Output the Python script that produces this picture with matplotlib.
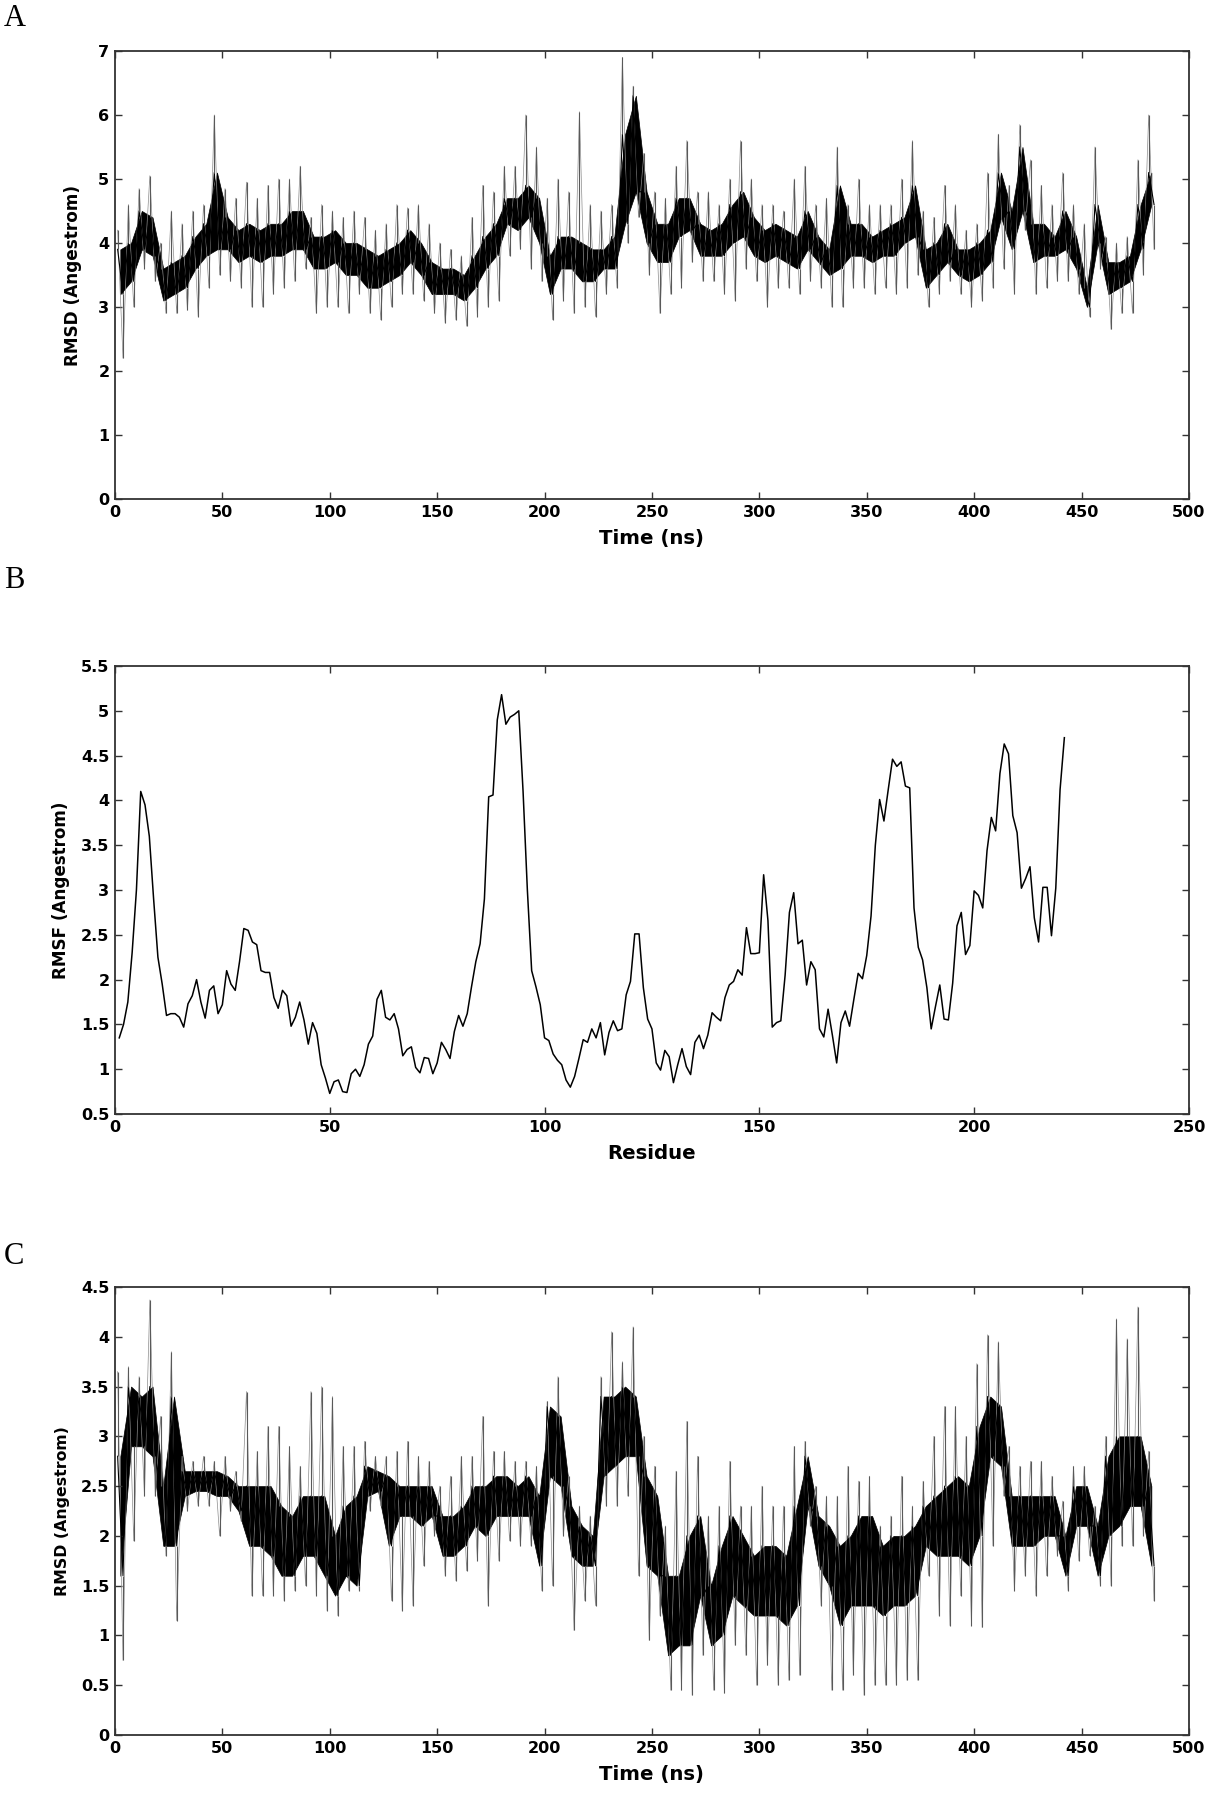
import numpy as np
import matplotlib
matplotlib.use("Agg")
import matplotlib.pyplot as plt
from matplotlib.ticker import FuncFormatter

# ---- Panel A: RMSD vs time, read per 5 ns window ----
# dark band (lo/hi) and the thin outer spikes (min/max)
a_t0 = list(range(0, 485, 5))
a_band_lo = [3.2, 3.4, 3.9, 3.8, 3.1, 3.2, 3.3, 3.6, 3.8, 3.9,
             3.9, 3.7, 3.8, 3.7, 3.8, 3.8, 3.9, 3.9, 3.6, 3.6,
             3.7, 3.5, 3.5, 3.3, 3.3, 3.4, 3.5, 3.7, 3.5, 3.2,
             3.2, 3.2, 3.1, 3.3, 3.6, 3.8, 4.3, 4.2, 4.4, 4.0,
             3.2, 3.6, 3.6, 3.4, 3.4, 3.6, 3.6, 4.3, 4.8, 4.0,
             3.7, 3.7, 4.1, 4.2, 3.8, 3.8, 3.8, 4.0, 4.1, 3.8,
             3.7, 3.8, 3.7, 3.6, 3.9, 3.7, 3.5, 3.6, 3.8, 3.8,
             3.7, 3.8, 3.8, 4.0, 4.1, 3.3, 3.5, 3.7, 3.5, 3.4,
             3.5, 3.7, 4.4, 3.9, 4.5, 3.7, 3.8, 3.8, 3.9, 3.6,
             3.0, 4.0, 3.2, 3.3, 3.4, 3.9, 4.6]
a_band_hi = [3.9, 4.0, 4.5, 4.4, 3.6, 3.7, 3.8, 4.1, 4.3, 5.1,
             4.4, 4.2, 4.3, 4.2, 4.3, 4.3, 4.5, 4.5, 4.1, 4.1,
             4.2, 4.0, 4.0, 3.9, 3.8, 3.9, 4.0, 4.2, 4.0, 3.7,
             3.6, 3.6, 3.5, 3.8, 4.1, 4.3, 4.7, 4.7, 4.9, 4.7,
             3.8, 4.1, 4.1, 4.0, 3.9, 3.9, 4.1, 5.7, 6.3, 4.8,
             4.3, 4.3, 4.7, 4.7, 4.3, 4.2, 4.3, 4.6, 4.8, 4.4,
             4.2, 4.3, 4.2, 4.1, 4.5, 4.1, 3.9, 4.9, 4.3, 4.3,
             4.1, 4.2, 4.3, 4.4, 4.9, 3.9, 4.0, 4.3, 3.9, 3.9,
             4.0, 4.2, 5.1, 4.5, 5.5, 4.3, 4.3, 4.1, 4.5, 4.1,
             3.3, 4.6, 3.7, 3.7, 3.8, 4.6, 5.1]
a_spike_lo = [2.2, 3.0, 3.6, 3.4, 2.9, 2.9, 2.95, 2.85, 3.3, 3.5,
              3.4, 3.3, 3.0, 3.0, 3.2, 3.3, 3.4, 3.6, 2.9, 3.0,
              3.0, 2.9, 3.2, 2.9, 2.8, 3.0, 3.2, 3.2, 3.1, 2.9,
              2.75, 2.8, 2.7, 2.85, 3.0, 3.1, 3.8, 3.9, 3.6, 3.4,
              2.8, 3.1, 2.9, 3.0, 2.85, 3.2, 3.3, 4.0, 4.4, 3.5,
              2.9, 3.2, 3.3, 3.7, 3.4, 3.4, 3.2, 3.1, 3.6, 3.4,
              3.0, 3.3, 3.3, 3.2, 3.4, 3.3, 3.0, 3.0, 3.3, 3.3,
              3.2, 3.3, 3.2, 3.3, 3.5, 3.0, 3.2, 3.4, 3.2, 3.0,
              3.1, 3.3, 3.6, 3.2, 4.2, 3.2, 3.3, 3.4, 3.4, 3.2,
              2.85, 3.6, 2.65, 2.9, 2.9, 3.5, 3.9]
a_spike_hi = [4.2, 4.6, 4.85, 5.05, 4.0, 4.5, 4.3, 4.5, 4.6, 6.0,
              4.85, 4.7, 4.95, 4.7, 4.9, 5.0, 5.0, 5.2, 4.4, 4.6,
              4.5, 4.4, 4.5, 4.4, 4.2, 4.3, 4.6, 4.55, 4.6, 4.3,
              4.0, 3.9, 3.8, 4.4, 4.9, 4.8, 5.2, 5.2, 6.0, 5.5,
              4.7, 5.0, 4.8, 6.05, 4.6, 4.5, 4.6, 6.9, 6.45, 5.4,
              4.8, 4.7, 5.2, 5.6, 4.8, 4.8, 4.6, 5.0, 5.6, 5.0,
              4.6, 4.6, 4.5, 5.0, 5.2, 4.6, 4.7, 5.5, 4.6, 5.0,
              4.6, 4.6, 4.6, 5.0, 5.6, 4.5, 4.4, 4.9, 4.6, 4.2,
              4.3, 5.1, 5.7, 4.9, 5.85, 5.3, 4.9, 4.6, 5.1, 4.6,
              4.3, 5.5, 4.1, 4.0, 4.1, 5.3, 6.0]

# ---- Panel B: RMSF per residue ----
b_residue = list(range(1, 222))
b_rmsf = [1.35, 1.5, 1.75, 2.3, 3.0, 4.1, 3.95, 3.6, 2.9, 2.25,
          1.95, 1.6, 1.62, 1.62, 1.58, 1.47, 1.73, 1.82, 2.0, 1.75,
          1.57, 1.88, 1.93, 1.62, 1.72, 2.1, 1.95, 1.88, 2.2, 2.57,
          2.55, 2.42, 2.39, 2.1, 2.08, 2.08, 1.8, 1.68, 1.88, 1.82,
          1.48, 1.58, 1.75, 1.55, 1.28, 1.52, 1.4, 1.05, 0.9, 0.73,
          0.86, 0.88, 0.75, 0.74, 0.95, 1.0, 0.92, 1.05, 1.28, 1.37,
          1.78, 1.88, 1.58, 1.55, 1.62, 1.45, 1.15, 1.22, 1.25, 1.02,
          0.96, 1.13, 1.12, 0.95, 1.07, 1.3, 1.22, 1.12, 1.42, 1.6,
          1.48, 1.62, 1.92, 2.2, 2.4, 2.9, 4.04, 4.06, 4.9, 5.18,
          4.85, 4.93, 4.96, 5.0, 4.1, 3.0, 2.1, 1.92, 1.72, 1.35,
          1.32, 1.17, 1.1, 1.05, 0.88, 0.8, 0.92, 1.12, 1.33, 1.3,
          1.45, 1.35, 1.52, 1.16, 1.41, 1.54, 1.43, 1.45, 1.83, 1.98,
          2.51, 2.51, 1.91, 1.56, 1.45, 1.07, 0.99, 1.21, 1.14, 0.85,
          1.05, 1.23, 1.03, 0.94, 1.3, 1.38, 1.23, 1.38, 1.63, 1.58,
          1.54, 1.8, 1.94, 1.98, 2.11, 2.05, 2.58, 2.29, 2.29, 2.3,
          3.17, 2.66, 1.47, 1.52, 1.54, 2.05, 2.75, 2.97, 2.4, 2.44,
          1.94, 2.2, 2.11, 1.45, 1.36, 1.67, 1.38, 1.07, 1.52, 1.65,
          1.48, 1.78, 2.07, 2.01, 2.27, 2.71, 3.5, 4.01, 3.77, 4.12,
          4.46, 4.38, 4.43, 4.16, 4.14, 2.8, 2.36, 2.22, 1.91, 1.45,
          1.7, 1.94, 1.56, 1.55, 1.96, 2.6, 2.75, 2.28, 2.38, 2.99,
          2.94, 2.8, 3.44, 3.81, 3.66, 4.3, 4.63, 4.52, 3.83, 3.64,
          3.02, 3.13, 3.26, 2.69, 2.42, 3.03, 3.03, 2.49, 3.02, 4.12,
          4.7]

# ---- Panel C: RMSD vs time, read per 5 ns window ----
c_t0 = list(range(0, 485, 5))
c_band_lo = [1.6, 2.9, 2.9, 2.8, 1.9, 1.9, 2.4, 2.45, 2.45, 2.4,
             2.4, 2.25, 1.9, 1.9, 1.8, 1.6, 1.6, 1.8, 1.8, 1.6,
             1.4, 1.6, 1.5, 2.4, 2.45, 1.9, 2.2, 2.2, 2.1, 2.2,
             1.8, 1.8, 1.9, 2.1, 2.0, 2.2, 2.2, 2.2, 2.2, 1.7,
             2.6, 2.5, 1.8, 1.7, 1.7, 2.6, 2.7, 2.8, 2.8, 1.7,
             1.6, 0.8, 0.9, 0.9, 1.4, 0.9, 1.0, 1.4, 1.3, 1.2,
             1.2, 1.2, 1.1, 1.3, 2.3, 1.7, 1.5, 1.1, 1.3, 1.3,
             1.3, 1.2, 1.3, 1.3, 1.4, 1.9, 1.8, 1.8, 1.8, 1.7,
             2.0, 2.8, 2.7, 1.9, 1.9, 1.9, 2.0, 2.0, 1.6, 2.1,
             2.1, 1.6, 2.0, 2.1, 2.3, 2.3, 1.7]
c_band_hi = [2.8, 3.5, 3.4, 3.5, 2.5, 3.4, 2.65, 2.65, 2.65, 2.65,
             2.6, 2.5, 2.5, 2.5, 2.5, 2.3, 2.2, 2.4, 2.4, 2.4,
             2.0, 2.3, 2.4, 2.7, 2.65, 2.6, 2.5, 2.5, 2.5, 2.5,
             2.2, 2.2, 2.3, 2.5, 2.5, 2.6, 2.6, 2.5, 2.6, 2.4,
             3.3, 3.2, 2.3, 2.1, 2.0, 3.4, 3.4, 3.5, 3.4, 2.6,
             2.4, 1.6, 1.6, 2.0, 2.2, 1.5, 1.9, 2.2, 2.0, 1.8,
             1.9, 1.9, 1.8, 2.3, 2.8, 2.2, 2.1, 1.9, 2.0, 2.2,
             2.2, 1.9, 2.0, 2.0, 2.1, 2.3, 2.4, 2.5, 2.6, 2.5,
             3.1, 3.4, 3.3, 2.4, 2.4, 2.4, 2.4, 2.4, 2.0, 2.5,
             2.5, 2.1, 2.8, 3.0, 3.0, 3.0, 2.5]
c_spike_lo = [0.75, 1.95, 2.4, 2.4, 1.8, 1.15, 2.25, 2.3, 2.3, 2.0,
              2.25, 2.15, 1.4, 1.4, 1.4, 1.35, 1.45, 1.5, 1.4, 1.25,
              1.2, 1.45, 1.45, 2.25, 2.3, 1.35, 1.25, 1.3, 1.7, 2.0,
              1.6, 1.55, 1.65, 1.75, 1.3, 1.75, 1.95, 1.9, 1.9, 1.45,
              1.5, 2.0, 1.05, 1.35, 1.3, 2.3, 2.3, 2.4, 1.6, 0.95,
              1.2, 0.45, 0.45, 0.4, 0.8, 0.45, 0.42, 0.9, 0.8, 0.5,
              0.7, 0.5, 0.55, 0.6, 2.1, 1.3, 0.45, 0.45, 0.6, 0.4,
              0.5, 0.5, 0.5, 0.55, 0.55, 1.6, 1.2, 1.1, 1.4, 1.1,
              1.08, 1.9, 2.4, 1.45, 1.6, 1.4, 1.6, 1.8, 1.45, 1.75,
              1.8, 1.5, 1.5, 1.9, 1.9, 2.0, 1.35]
c_spike_hi = [3.65, 3.7, 3.6, 4.37, 3.2, 3.85, 2.8, 2.75, 2.8, 2.75,
              2.8, 2.65, 3.45, 2.85, 3.1, 3.1, 2.9, 2.7, 3.45, 3.5,
              3.4, 2.9, 2.9, 2.95, 2.8, 2.8, 2.85, 2.95, 2.8, 2.75,
              2.5, 2.6, 2.8, 2.8, 3.2, 2.85, 2.85, 2.75, 2.75, 2.7,
              3.35, 3.6, 2.6, 2.3, 2.2, 3.6, 4.05, 3.75, 4.1, 3.0,
              2.7, 2.1, 2.65, 3.15, 2.8, 2.2, 2.3, 2.75, 2.3, 2.3,
              2.5, 2.3, 2.3, 2.9, 2.95, 2.5, 2.4, 2.4, 2.7, 2.55,
              2.6, 2.1, 2.2, 2.6, 2.3, 2.55, 3.0, 3.3, 3.3, 3.0,
              3.73, 4.02, 3.95, 2.9, 2.7, 2.75, 2.75, 2.6, 2.35, 2.7,
              2.7, 2.3, 3.0, 4.18, 3.98, 4.3, 2.85]


def fmt(v, pos):
    return '%g' % v


def style_axes(ax, xmax, ymin, ymax, ystep, xlabel, ylabel, ylabel_size, ylabel_pad):
    ax.set_xlim(0, xmax)
    ax.set_ylim(ymin, ymax)
    ax.set_xticks(np.arange(0, xmax + 1, 50))
    ax.set_yticks(np.arange(ymin, ymax + 0.001, ystep))
    ax.yaxis.set_major_formatter(FuncFormatter(fmt))
    ax.tick_params(direction='in', top=True, right=True, length=5, width=1.0,
                   labelsize=11.5, pad=4, color='#333333')
    for lab in ax.get_xticklabels() + ax.get_yticklabels():
        lab.set_fontweight('bold')
    for sp in ax.spines.values():
        sp.set_linewidth(1.3)
        sp.set_color('#333333')
    ax.set_xlabel(xlabel, fontsize=14.2, fontweight='bold', labelpad=7)
    ax.set_ylabel(ylabel, fontsize=ylabel_size, fontweight='bold', labelpad=ylabel_pad)


def draw_trace(ax, t0, band_lo, band_hi, spike_lo, spike_hi):
    t0 = np.asarray(t0, dtype=float)
    mid = t0 + 2.5
    # light zigzag through the window extremes (the grey fuzz)
    xs = np.column_stack([t0 + 1.25, t0 + 3.75]).ravel()
    ax.plot(xs, np.column_stack([spike_hi, spike_lo]).ravel(), color='0.55', lw=0.5)
    # dark core band of each 5 ns window
    ax.fill_between(mid, band_lo, band_hi, color='black', lw=0.5)
    ax.plot(xs, np.column_stack([band_hi, band_lo]).ravel(), color='black', lw=0.8)
    # thin grey spikes out to the window extremes
    ax.vlines(t0 + 1.25, band_hi, spike_hi, color='0.35', lw=0.8)
    ax.vlines(t0 + 3.75, spike_lo, band_lo, color='0.35', lw=0.8)


fig = plt.figure(figsize=(12.1, 18), dpi=100)
left, width, height = 0.095, 0.8876, 0.2489

axA = fig.add_axes([left, 0.7228, width, height])
draw_trace(axA, a_t0, a_band_lo, a_band_hi, a_spike_lo, a_spike_hi)
style_axes(axA, 500, 0, 7, 1, 'Time (ns)', 'RMSD (Angestrom)', 12.2, 12)

axB = fig.add_axes([left, 0.3811, width, height])
axB.plot(b_residue, b_rmsf, color='black', lw=1.1)
style_axes(axB, 250, 0.5, 5.5, 0.5, 'Residue', 'RMSF (Angestrom)', 12.1, 8)

axC = fig.add_axes([left, 0.0361, width, height])
draw_trace(axC, c_t0, c_band_lo, c_band_hi, c_spike_lo, c_spike_hi)
style_axes(axC, 500, 0, 4.5, 0.5, 'Time (ns)', 'RMSD (Angestrom)', 11.3, 8)

for letter, y in [('A', 1 - 18 / 1800), ('B', 1 - 581 / 1800), ('C', 1 - 1257 / 1800)]:
    fig.text(0.003, y, letter, fontsize=22, family='Liberation Serif',
             ha='left', va='center')

fig.savefig('out.png', dpi=100)
